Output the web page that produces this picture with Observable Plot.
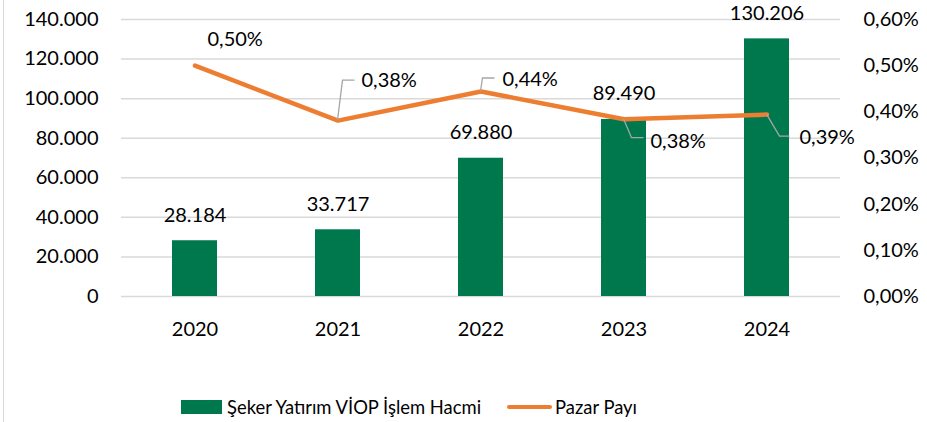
<!DOCTYPE html>
<html><head><meta charset="utf-8">
<script src="https://cdn.jsdelivr.net/npm/d3@7"></script>
<script src="https://cdn.jsdelivr.net/npm/@observablehq/plot@0.6"></script>
<style>
body{margin:0;background:#fff;font-family:Lato,"Open Sans",sans-serif;color:#000;}
#wrap{position:relative;width:927px;height:422px;overflow:hidden;background:#fff;}
#frame{position:absolute;left:3px;top:0;width:1px;height:422px;background:#d9d9d9;}
#legend{position:absolute;left:181px;top:396px;display:flex;align-items:center;font-size:18.4px;white-space:nowrap;}
.sw-bar{width:41px;height:14px;background:#00784E;margin-right:5px;}
.sw-line{width:45px;height:4.5px;background:#ED7D31;border-radius:3px;margin-left:26px;margin-right:3px;}
</style></head><body>
<div id="wrap"><div id="chart"></div>
<div id="legend"><div class="sw-bar"></div><span id="n0"></span><div class="sw-line"></div><span id="n1"></span></div>
<div id="frame"></div></div>
<script>
const years = ["2020", "2021", "2022", "2023", "2024"];
const volume = [28184, 33717, 69880, 89490, 130206];
const share = [0.50, 0.381, 0.444, 0.384, 0.394]; // Pazar Payı, %
const volumeTicks = [0, 20000, 40000, 60000, 80000, 100000, 120000, 140000];
const shareTicks = [0, 0.1, 0.2, 0.3, 0.4, 0.5, 0.6];
const seriesNames = ["Şeker Yatırım VİOP İşlem Hacmi", "Pazar Payı"];

// label placement (pixel offsets from each line point): elbow, text start
const labelLayout = [
  {leader: false, tx: 13, ty: -26},
  {leader: true, ex: 5, ey: -40, hx: 17, tx: 24, ty: -40},
  {leader: true, ex: 2, ey: -13, hx: 14, tx: 22, ty: -12},
  {leader: true, ex: 8, ey: 19, hx: 20, tx: 27, ty: 22},
  {leader: true, ex: 13, ey: 22, hx: 23, tx: 33, ty: 23}
];

const GREEN = "#00784E", ORANGE = "#ED7D31", GRID = "#d9d9d9", LEADER = "#a6a6a6", INK = "#000";
const volMax = 140000, shareMax = 0.6;
const toVol = p => p / shareMax * volMax;

document.getElementById("n0").textContent = seriesNames[0];
document.getElementById("n1").textContent = seriesNames[1];

const tr = d3.formatLocale({decimal: ",", thousands: ".", grouping: [3], currency: ["", ""]});
const fmtVol = tr.format(",.0f");
const fmtPct = p => tr.format(".2f")(p) + "%";

const data = years.map((year, i) => ({year, volume: volume[i], share: share[i]}));

function shareLabels(index, scales, values, dimensions, context) {
  const sx = scales.x, sy = scales.y;
  const bw = typeof sx.bandwidth === "function" ? sx.bandwidth() : 0;
  const g = d3.create("svg:g").attr("text-anchor", "start");
  data.forEach((d, i) => {
    const px = sx(d.year) + bw / 2, py = sy(toVol(d.share));
    const L = labelLayout[i];
    if (L.leader) {
      g.append("path")
        .attr("d", `M${px},${py}L${px + L.ex},${py + L.ey}L${px + L.hx},${py + L.ey}`)
        .attr("fill", "none").attr("stroke", LEADER).attr("stroke-width", 1.3);
    }
    g.append("text")
      .attr("x", px + L.tx).attr("y", py + L.ty)
      .attr("dy", "0.35em")
      .attr("text-anchor", "start")
      .attr("fill", INK).attr("font-size", 20)
      .text(fmtPct(d.share));
  });
  return g.node();
}

const chart = Plot.plot({
  width: 927,
  height: 350,
  marginLeft: 121,
  marginRight: 87,
  marginTop: 19,
  marginBottom: 54,
  style: {fontFamily: "Lato, 'Open Sans', sans-serif", fontSize: "20px", color: INK, background: "transparent"},
  x: {type: "band", domain: years, paddingInner: 0.687, paddingOuter: 0.3435, label: null},
  y: {domain: [0, volMax], label: null},
  marks: [
    Plot.gridY(volumeTicks, {stroke: GRID, strokeOpacity: 1, strokeWidth: 1.5}),
    Plot.barY(data, {x: "year", y: "volume", fill: GREEN}),
    Plot.text(data, {x: "year", y: "volume", text: d => fmtVol(d.volume), dy: -19, lineAnchor: "bottom", fill: INK, fontSize: 20}),
    Plot.line(data, {x: "year", y: d => toVol(d.share), stroke: ORANGE, strokeWidth: 4.5, strokeLinecap: "round", strokeLinejoin: "round"}),
    shareLabels,
    Plot.axisY({anchor: "left", ticks: volumeTicks, tickFormat: fmtVol, tickSize: 0, tickPadding: 23, fontSize: 20, label: null}),
    Plot.axisY({anchor: "right", ticks: shareTicks.map(toVol), tickFormat: v => fmtPct(v / volMax * shareMax), tickSize: 0, tickPadding: 23, fontSize: 20, label: null}),
    Plot.axisX({tickSize: 0, tickPadding: 25, fontSize: 20, label: null})
  ]
});
document.getElementById("chart").appendChild(chart);
</script>
</body></html>
